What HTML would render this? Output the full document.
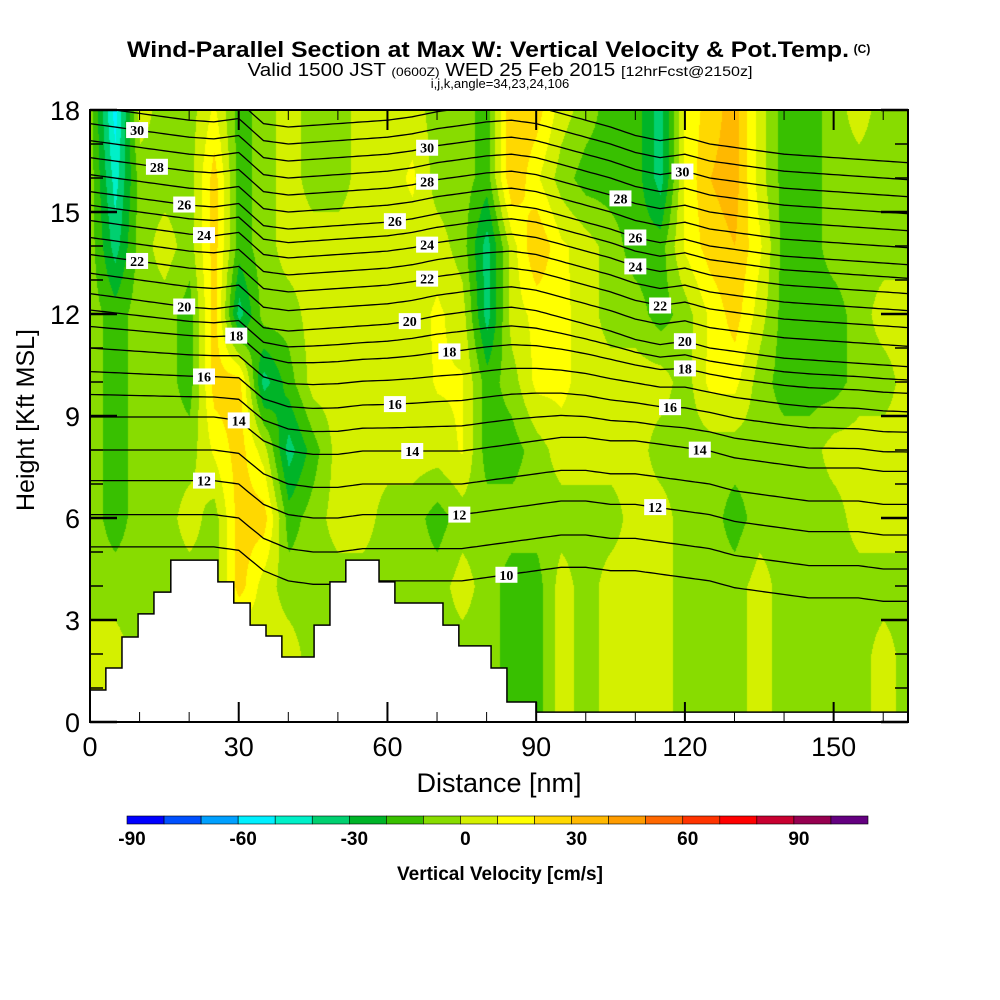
<!DOCTYPE html>
<html><head><meta charset="utf-8">
<style>
body{margin:0;background:#fff;width:1000px;height:1000px;overflow:hidden;font-family:"Liberation Sans",sans-serif}
#wrap{position:relative;width:1000px;height:1000px}
canvas{position:absolute;left:90px;top:110px}
svg{position:absolute;left:0;top:0}
</style></head><body>
<div id="wrap">
<canvas id="field" width="818" height="612"></canvas>
<svg id="svg" width="1000" height="1000"></svg>
</div>
<script>
// ---- data ----
const distCols = [0,5,10,15,20,25,30,35,40,45,50,55,60,65,70,75,80,85,90,95,100,105,110,115,120,125,130,135,140,145,150,155,160,165];
const heightRows = [0,2,4,6,8,10,12,14,16,18];
const wRow0  = [5,5,-5,-5,-5,-5,-5,5,5,-5,-5,-5,-5,-5,-5,-5,-5,-15,-15,5,-5,5,5,5,-5,-5,-5,5,-5,-5,-5,-5,5,-5];
const wRow2  = [5,5,-5,-5,-5,-5,-5,5,5,-5,-5,-5,-5,-5,-5,-5,-5,-15,-15,5,-5,5,5,5,-5,-5,-5,5,-5,-5,-5,-5,5,-5];
const wRow4  = [-5,-5,-5,-5,-5,-5,25,5,-5,-5,-5,-5,-5,-5,-5,5,-5,-15,-15,5,-5,5,5,5,-5,-5,-5,5,-5,-5,-5,-5,-5,-5];
const wRow6  = [-5,-15,-5,-5,5,-5,25,25,-15,-5,5,5,-5,-5,-15,-5,-5,-5,-5,-5,-5,-5,5,5,-5,-5,-15,-5,-5,-5,-5,5,5,5];
const wRow8  = [-5,-15,-5,-5,-5,12,25,5,-35,-15,5,5,5,5,5,11,-15,-15,-5,5,5,5,5,-5,-5,-5,-5,-5,-5,-5,5,5,5,5];
const wRow10 = [-5,-15,-5,-5,-15,25,25,-35,-15,5,5,5,5,5,11,11,-15,-5,13,13,5,5,5,5,-5,13,13,-5,-15,-15,-15,-5,-5,5];
const wRow12 = [-5,-15,-5,-5,-15,25,-35,-5,-5,5,5,5,5,5,12,5,-35,5,13,13,5,-5,-5,-15,-5,12,25,5,-15,-15,-15,-5,5,5];
const wRow14 = [-5,-35,-5,5,-5,25,-15,-5,5,5,5,5,5,5,5,-5,-35,5,30,12,5,-5,-15,-15,12,25,30,12,-15,-15,-5,-5,-5,-5];
const wRow16 = [-5,-45,-5,-5,-5,25,-15,-5,5,-5,-5,5,5,12,-5,-5,-15,30,12,-5,-15,-15,-15,-35,12,30,35,5,-15,-15,-5,-5,-5,-5];
const wRow18 = [-5,-55,5,-5,-5,12,-15,-5,5,-5,-5,5,5,5,-5,-5,-15,30,25,5,-5,-15,-15,-35,12,25,35,5,-15,-15,-5,5,-5,-5];
const wGrid = [wRow0,wRow2,wRow4,wRow6,wRow8,wRow10,wRow12,wRow14,wRow16,wRow18];

const levelColors = ["#0000ff","#0050ff","#00a0ff","#00f0ff","#00f0c8","#00d070","#00b428","#38c000","#88dc00","#d4f000","#ffff00","#ffd800","#ffb800","#ff9c00","#ff6800","#ff3400","#ff0000","#c80030","#960050","#640080"];
const levelMin = -90, levelStep = 10;
const cbarTicks = [-90,-60,-30,0,30,60,90];

const terrainX = [0,3.2,6.45,9.7,12.9,16.3,25.8,29.0,32.3,35.5,38.7,45.2,48.4,51.6,58.3,61.5,71.2,74.4,80.9,84.1,90.0,165];
const terrainZ = [0.94,1.59,2.5,3.18,3.82,4.76,4.12,3.5,2.85,2.53,1.91,2.85,4.12,4.76,4.12,3.5,2.85,2.24,1.59,0.59,0.29];

const thetaLevels = [10,11,12,13,14,15,16,17,18,19,20,21,22,23,24,25,26,27,28,29,30,31,32];
const thetaBaseZ  = [4.15,5.1,6.1,7.0,7.97,8.7,9.44,10.2,10.9,11.45,12.0,12.6,13.15,13.65,14.15,14.6,15.0,15.5,16.0,16.5,17.0,17.5,18.0];
const dispUpper = [0.6,0.5,0.4,0.3,0.2,0.15,0.25,-0.4,-0.5,-0.45,-0.4,-0.35,-0.3,-0.2,-0.05,0.05,0.15,0.2,0.1,-0.1,-0.3,-0.5,-0.75,-0.9,-0.8,-1.0,-1.1,-1.2,-1.3,-1.35,-1.4,-1.45,-1.5,-1.55];
const dispLower = [1.0,1.0,1.0,1.0,1.0,1.0,0.9,0.3,0.0,-0.1,-0.1,0,0,0,0,0,0.1,0.2,0.3,0.4,0.4,0.3,0.3,0.2,0.1,0,-0.2,-0.3,-0.4,-0.5,-0.5,-0.5,-0.6,-0.6];
const labelTheta = [30,28,26,24,22,20,18,16,14,12,30,28,26,24,22,20,18,16,14,12,10,28,30,26,24,22,20,18,16,14,12];
const labelDist  = [9.5,13.5,19,23,9.5,19,29.5,23,30,23,68,68,61.5,68,68,64.5,72.5,61.5,65,74.5,84,107,119.5,110,110,115,120,120,117,123,114];

const xTicks = [0,30,60,90,120,150];
const yTicks = [0,3,6,9,12,15,18];

// ---- scales ----
const PX0=90,PX1=908,PY0=110,PY1=722, XMAX=165, ZMAX=18;
const xs = d => PX0 + d*(PX1-PX0)/XMAX;
const ys = z => PY1 - z*(PY1-PY0)/ZMAX;

function interp1(arrX, arrV, x){
  if(x<=arrX[0]) return arrV[0];
  for(let i=0;i<arrX.length-1;i++){
    if(x<=arrX[i+1]){const t=(x-arrX[i])/(arrX[i+1]-arrX[i]);return arrV[i]*(1-t)+arrV[i+1]*t;}
  }
  return arrV[arrV.length-1];
}
function wAt(d,z){
  let ci=Math.min(distCols.length-2,Math.max(0,Math.floor(d/5)));
  let tx=(d-distCols[ci])/5; tx=Math.max(0,Math.min(1,tx));
  let ri=Math.min(heightRows.length-2,Math.max(0,Math.floor(z/2)));
  let tz=(z-heightRows[ri])/2; tz=Math.max(0,Math.min(1,tz));
  const a=wGrid[ri][ci],b=wGrid[ri][ci+1],c=wGrid[ri+1][ci],e=wGrid[ri+1][ci+1];
  return (a*(1-tx)+b*tx)*(1-tz)+(c*(1-tx)+e*tx)*tz;
}
function hexRgb(h){return [parseInt(h.substr(1,2),16),parseInt(h.substr(3,2),16),parseInt(h.substr(5,2),16)];}
const rgbs = levelColors.map(hexRgb);

// ---- field ----
const cv=document.getElementById('field'), ctx=cv.getContext('2d');
const img=ctx.createImageData(818,612);
for(let py=0;py<612;py++){
  const z=(PY1-(py+PY0))/(PY1-PY0)*ZMAX;
  for(let px=0;px<818;px++){
    const d=px/(PX1-PX0)*XMAX;
    let k=Math.floor((wAt(d,z)-levelMin)/levelStep);
    k=Math.max(0,Math.min(rgbs.length-1,k));
    const o=(py*818+px)*4, c=rgbs[k];
    img.data[o]=c[0];img.data[o+1]=c[1];img.data[o+2]=c[2];img.data[o+3]=255;
  }
}
ctx.putImageData(img,0,0);

// ---- svg ----
const NS='http://www.w3.org/2000/svg', svg=document.getElementById('svg');
function mk(tag,attrs,parent){const e=document.createElementNS(NS,tag);for(const k in attrs)e.setAttribute(k,attrs[k]);(parent||svg).appendChild(e);return e;}
function txt(str,attrs,parent){const e=mk('text',attrs,parent);e.textContent=str;return e;}

const defs=mk('defs',{});
const cp=mk('clipPath',{id:'plotclip'},defs);
mk('rect',{x:PX0,y:PY0,width:PX1-PX0,height:PY1-PY0},cp);

function thetaZ(i,d){
  const th=thetaLevels[i];
  const w=Math.max(0,Math.min(1,(th-14)/6));
  const disp=interp1(distCols,dispLower,d)*(1-w)+interp1(distCols,dispUpper,d)*w;
  return thetaBaseZ[i]+disp;
}
const lineG=mk('g',{'clip-path':'url(#plotclip)'});


for(let i=0;i<thetaLevels.length;i++){
  let pts=[];
  for(let d=0;d<=XMAX;d+=1){pts.push(xs(d).toFixed(1)+','+ys(thetaZ(i,d)).toFixed(1));}
  const pl=mk('polyline',{points:pts.join(' '),fill:'none',stroke:'#000','stroke-width':1.3},lineG);
  
  
}
// terrain
let tp=[xs(0)+','+ys(0)];
for(let i=0;i<terrainZ.length;i++){tp.push(xs(terrainX[i])+','+ys(terrainZ[i]));tp.push(xs(terrainX[i+1])+','+ys(terrainZ[i]));}
tp.push(xs(XMAX)+','+ys(0));
const terr=mk('polygon',{points:tp.join(' '),fill:'#fff',stroke:'#000','stroke-width':1.5});


// contour labels
for(let j=0;j<labelTheta.length;j++){
  const i=thetaLevels.indexOf(labelTheta[j]);
  const cx=xs(labelDist[j]), cy=ys(thetaZ(i,labelDist[j]));
  const g=mk('g',{});
  
  
  mk('rect',{x:cx-11,y:cy-8,width:22,height:16,fill:'#fff'},g);
  txt(String(labelTheta[j]),{x:cx,y:cy+5,'text-anchor':'middle','font-size':14,'font-weight':'bold','font-family':'Liberation Serif, serif'},g);
}
// frame
const fr=mk('rect',{x:PX0,y:PY0,width:PX1-PX0,height:PY1-PY0,fill:'none',stroke:'#000','stroke-width':2});


// ticks
for(let d=0;d<=XMAX;d+=10){
  const major=d%30===0, L=major?20:10, x=xs(d);
  mk('line',{x1:x,y1:PY1,x2:x,y2:PY1-L,stroke:'#000','stroke-width':major?2:1});
  mk('line',{x1:x,y1:PY0,x2:x,y2:PY0+L,stroke:'#000','stroke-width':major?2:1});
}
for(let z=0;z<=ZMAX;z+=1){
  const major=z%3===0, L=major?27:13, y=ys(z);
  mk('line',{x1:PX0,y1:y,x2:PX0+L,y2:y,stroke:'#000','stroke-width':major?2.5:1.5});
  mk('line',{x1:PX1,y1:y,x2:PX1-L,y2:y,stroke:'#000','stroke-width':major?2.5:1.5});
}
xTicks.forEach(v=>{const t=txt(String(v),{x:xs(v),y:756,'text-anchor':'middle','font-size':27});
  
  });
yTicks.forEach(v=>{const t=txt(String(v),{x:80,y:ys(v)+10,'text-anchor':'end','font-size':27});
  
  });
// colorbar
const CB0=127,CB1=868,CBY=816,CBH=8, cw=(CB1-CB0)/levelColors.length;
levelColors.forEach((c,k)=>{const r=mk('rect',{x:CB0+k*cw,y:CBY,width:cw,height:CBH,fill:c,stroke:'#000','stroke-width':0.6});
  
  });
cbarTicks.forEach(v=>{const t=txt(String(v),{x:CB0+(v-levelMin)/levelStep*cw+5,y:845,'text-anchor':'middle','font-size':19,'font-weight':'bold'});
  
  });
</script>
<svg width="1000" height="1000" style="position:absolute;left:0;top:0;pointer-events:none">
<text x="488" y="57" text-anchor="middle" font-size="22" font-weight="bold" textLength="722" lengthAdjust="spacingAndGlyphs" font-family="Liberation Sans, sans-serif">Wind-Parallel Section at Max W: Vertical Velocity &amp; Pot.Temp.</text>
<text x="862" y="53" text-anchor="middle" font-size="12" font-weight="bold" font-family="Liberation Sans, sans-serif">(C)</text>
<text x="500" y="76" text-anchor="middle" font-size="18" textLength="505" lengthAdjust="spacingAndGlyphs" font-family="Liberation Sans, sans-serif">Valid 1500 JST <tspan font-size="12">(0600Z)</tspan> WED 25 Feb 2015 <tspan font-size="14">[12hrFcst@2150z]</tspan></text>
<text x="500" y="88" text-anchor="middle" font-size="13" font-family="Liberation Sans, sans-serif">i,j,k,angle=34,23,24,106</text>
<text x="499" y="792" text-anchor="middle" font-size="27" font-family="Liberation Sans, sans-serif">Distance [nm]</text>
<text x="34" y="420" text-anchor="middle" font-size="25" font-family="Liberation Sans, sans-serif" transform="rotate(-90 34 420)">Height [Kft MSL]</text>
<text x="500" y="880" text-anchor="middle" font-size="19" font-weight="bold" font-family="Liberation Sans, sans-serif">Vertical Velocity [cm/s]</text>
</svg>
</body></html>
